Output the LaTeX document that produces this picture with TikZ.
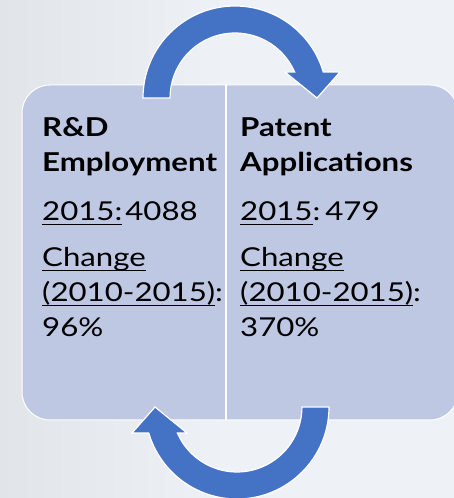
\documentclass[tikz,border=0pt]{standalone}
\usepackage{fontspec}
\setmainfont[FakeStretch=1.2]{Lato}
\usepackage{tikz}
\definecolor{arrowblue}{HTML}{4472C4}
\definecolor{boxfill}{HTML}{BFC8E3}
\definecolor{backfill}{HTML}{EEF2F7}
\definecolor{backshade}{HTML}{E1E4E9}
\def\toparrow{(143,400) arc[start angle=180,end angle=16.4,radius=92pt] -- (340,426) -- (317,400) -- (285,426) -- (294.6,426) arc[start angle=23.6,end angle=180,radius=65pt] -- cycle}
\def\bothboxes{(22,78) rectangle (458,413)}
\newcommand\ulin[1]{\setbox0\hbox{#1}\rlap{\rule[-4pt]{\wd0}{0.9pt}}\box0\relax}

\begin{document}
\begin{tikzpicture}[x=1pt,y=1pt,
		flowarrow/.style={fill=arrowblue,draw=white,line width=1.2pt},
		coltext/.style={anchor=base west,inner sep=0pt,align=left,font=\fontsize{26}{35}\selectfont}]
			\shade[left color=backshade,right color=backfill,middle color=backfill] (0,0) rectangle (454,498);
			\useasboundingbox (0,0) rectangle (454,498);
			\fill[boxfill,draw=white,line width=1pt,rounded corners=28pt] \bothboxes;
			\draw[white,line width=2.5pt] (226,78) -- (226,413);
			\fill[flowarrow] \toparrow;
			\fill[flowarrow,rotate around={180:(236,245.5)}] \toparrow;
			\node[coltext] (rdtext) at (42,161) {\textbf{R\&D}\\\textbf{Employment}\\[14pt]\ulin{2015:}\hspace{3pt}4088\\[11pt]\ulin{Change}\\\ulin{(2010-2015)}:\\96\%};
			\node[coltext] (pattext) at (240,161) {\textbf{Patent}\\\textbf{Applications}\\[14pt]\ulin{2015}:\hspace{5pt}479\\[11pt]\ulin{Change}\\\ulin{(2010-2015)}:\\370\%};
		\end{tikzpicture}
\end{document}
